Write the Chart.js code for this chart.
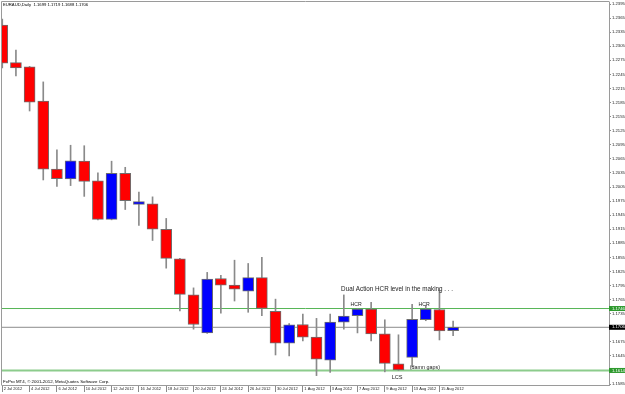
<!DOCTYPE html>
<html>
<head>
<meta charset="utf-8">
<script src="https://cdn.jsdelivr.net/npm/chart.js@4.4.0/dist/chart.umd.min.js"></script>
<style>
  html, body { margin: 0; padding: 0; background: #fff; }
  #wrap { width: 625px; height: 394px; }
</style>
</head>
<body>
<div id="wrap"><canvas id="chart" width="625" height="394"></canvas></div>
<script>
// EURAUD daily candles, 2 Jul - 16 Aug 2012
const dates = ['2 Jul 2012','3 Jul 2012','4 Jul 2012','5 Jul 2012','6 Jul 2012','9 Jul 2012','10 Jul 2012','11 Jul 2012',
  '12 Jul 2012','13 Jul 2012','16 Jul 2012','17 Jul 2012','18 Jul 2012','19 Jul 2012','20 Jul 2012','23 Jul 2012',
  '24 Jul 2012','25 Jul 2012','26 Jul 2012','27 Jul 2012','30 Jul 2012','31 Jul 2012','1 Aug 2012','2 Aug 2012',
  '3 Aug 2012','6 Aug 2012','7 Aug 2012','8 Aug 2012','9 Aug 2012','10 Aug 2012','13 Aug 2012','14 Aug 2012',
  '15 Aug 2012','16 Aug 2012'];
const open  = [1.2350,1.2270,1.2261,1.2188,1.2043,1.2022,1.2060,1.2018,1.1936,1.2034,1.1968,1.1969,1.1915,1.1852,1.1775,1.1694,
  1.1810,1.1796,1.1783,1.1812,1.1740,1.1672,1.1712,1.1685,1.1636,1.1717,1.1731,1.1745,1.1692,1.1628,1.1642,1.1722,1.1744,1.1699];
const high  = [1.2363,1.2297,1.2262,1.2229,1.2084,1.2094,1.2093,1.2035,1.2060,1.2047,1.1994,1.1984,1.1938,1.1853,1.1790,1.1823,
  1.1817,1.1849,1.1842,1.1855,1.1766,1.1714,1.1734,1.1725,1.1734,1.1775,1.1746,1.1759,1.1722,1.1690,1.1755,1.1752,1.1785,1.1719];
const low   = [1.2259,1.2242,1.2167,1.2020,1.2006,1.2008,1.1985,1.1935,1.1935,1.1957,1.1923,1.1891,1.1832,1.1741,1.1702,1.1693,
  1.1736,1.1762,1.1738,1.1731,1.1647,1.1645,1.1677,1.1603,1.1610,1.1702,1.1694,1.1677,1.1611,1.1614,1.1622,1.1720,1.1679,1.1688];
const close = [1.2269,1.2259,1.2186,1.2043,1.2023,1.2061,1.2017,1.1936,1.2034,1.1976,1.1974,1.1915,1.1853,1.1776,1.1712,1.1809,
  1.1796,1.1787,1.1812,1.1746,1.1672,1.1711,1.1685,1.1638,1.1717,1.1730,1.1745,1.1692,1.1629,1.1615,1.1723,1.1745,1.1698,1.1706];

// price scale labels (right side)
const yTicks = [1.1585,1.1615,1.1645,1.1675,1.1705,1.1735,1.1765,1.1795,1.1825,1.1855,1.1885,1.1915,1.1945,1.1975,
  1.2005,1.2035,1.2065,1.2095,1.2125,1.2155,1.2185,1.2215,1.2245,1.2275,1.2305,1.2335,1.2365,1.2395];

// horizontal levels: upper HCR line, current price, lower line
const levelValues = [1.1746, 1.1706, 1.1614];

// text notes on the chart (bar index, price)
const noteTexts  = ['Dual Action HCR level in the making . . .', 'HCR', 'HCR', 'LCS', '(damn gaps)'];
const noteBars   = [24.8, 25.9, 30.88, 28.9, 29.82];
const notePrices = [1.1788, 1.17535, 1.17535, 1.1600, 1.16192];

const FONT = "'Liberation Sans', Arial, sans-serif";
const RED = '#ff0000', BLUE = '#0000ff', EDGE = '#6e6e6e';

const levelStyle = [
  { color: '#57b657', width: 1, box: '#2e9a2e' },
  { color: '#8c8c8c', width: 1, box: '#000000' },
  { color: '#8ccc8c', width: 2, box: '#2e9a2e' }
];
const noteStyle = [
  { size: 6.3, align: 'left' },
  { size: 5.2, align: 'center' },
  { size: 5.2, align: 'center' },
  { size: 5.6, align: 'center' },
  { size: 5.4, align: 'left' }
];

const xMin = -0.02, xMax = 44.41;
const yMin = 1.1583, yMax = 1.23993;

const bodyColors = close.map((c, i) => c >= open[i] ? BLUE : RED);

const datasets = [
  {
    label: 'body',
    data: dates.map((d, i) => ({ x: i, y: [open[i], close[i]] })),
    backgroundColor: bodyColors,
    borderColor: EDGE,
    borderWidth: 1,
    borderSkipped: false,
    barThickness: 11,
    grouped: false,
    clip: 0,
    order: 0
  },
  {
    label: 'wick',
    data: dates.map((d, i) => ({ x: i, y: [low[i], high[i]] })),
    backgroundColor: '#8a8a8a',
    borderWidth: 0,
    barThickness: 1,
    grouped: false,
    clip: 0,
    order: 1
  }
];
levelValues.forEach((v, k) => {
  datasets.push({
    type: 'line',
    label: 'level ' + v,
    data: [{ x: xMin, y: v }, { x: xMax, y: v }],
    borderColor: levelStyle[k].color,
    borderWidth: levelStyle[k].width,
    pointRadius: 0,
    order: 2 + k
  });
});

const overlay = {
  id: 'overlay',
  afterDraw(chart) {
    const { ctx, chartArea: a, scales: { x, y } } = chart;
    ctx.save();
    // frame on left / top
    ctx.strokeStyle = '#9a9a9a';
    ctx.lineWidth = 1;
    ctx.beginPath();
    ctx.moveTo(1.5, a.bottom + 0.5);
    ctx.lineTo(1.5, 1.5);
    ctx.lineTo(a.right + 0.5, 1.5);
    ctx.stroke();

    // price boxes on the right scale
    levelValues.forEach((v, k) => {
      const py = y.getPixelForValue(v);
      ctx.fillStyle = levelStyle[k].box;
      ctx.fillRect(a.right, py - 2.5, 625 - a.right, 5);
      ctx.fillStyle = '#ffffff';
      ctx.font = '4.2px ' + FONT;
      ctx.textAlign = 'left';
      ctx.textBaseline = 'middle';
      ctx.fillText(v.toFixed(4), a.right + 3, py);
    });

    // header and footer text
    const n = close.length - 1;
    ctx.fillStyle = '#000';
    ctx.font = '4.2px ' + FONT;
    ctx.textAlign = 'left';
    ctx.textBaseline = 'middle';
    ctx.fillText('EURAUD,Daily  ' + [open[n], high[n], low[n], close[n]].map(v => v.toFixed(4)).join(' '), 3, 5);
    ctx.font = '4.4px ' + FONT;
    ctx.fillText('FxPro MT4, \u00a9 2001-2012, MetaQuotes Software Corp.', 3, a.bottom - 3);

    // notes
    noteTexts.forEach((t, k) => {
      ctx.font = noteStyle[k].size + 'px ' + FONT;
      ctx.fillStyle = '#222';
      ctx.textAlign = noteStyle[k].align;
      ctx.fillText(t, x.getPixelForValue(noteBars[k]), y.getPixelForValue(notePrices[k]));
    });
    ctx.restore();
  }
};

new Chart(document.getElementById('chart'), {
  type: 'bar',
  data: { datasets },
  options: {
    responsive: false,
    animation: false,
    devicePixelRatio: 1,
    layout: { padding: { left: 2, top: 2, right: 0, bottom: 0 } },
    plugins: { legend: { display: false }, tooltip: { enabled: false } },
    scales: {
      x: {
        type: 'linear',
        offset: false,
        grace: 0,
        min: xMin,
        max: xMax,
        afterBuildTicks: s => { s.ticks = dates.map((d, i) => ({ value: i })).filter(t => t.value % 2 === 0); },
        afterFit: s => { s.height = 9; s.paddingLeft = 0; s.paddingRight = 0; },
        grid: { offset: false, drawOnChartArea: false, drawTicks: true, tickLength: 7, color: '#8a8a8a' },
        border: { color: '#9a9a9a' },
        ticks: {
          autoSkip: false, maxRotation: 0, align: 'start', labelOffset: 1.5, padding: -6,
          color: '#222', font: { family: FONT, size: 4 },
          callback: v => dates[v]
        }
      },
      y: {
        position: 'right',
        min: yMin,
        max: yMax,
        afterBuildTicks: s => { s.ticks = yTicks.map(v => ({ value: v })); },
        afterFit: s => { s.width = 16; s.paddingTop = 0; s.paddingBottom = 0; },
        grid: { drawOnChartArea: false, drawTicks: true, tickLength: 2, color: '#8a8a8a' },
        border: { color: '#9a9a9a' },
        ticks: {
          autoSkip: false, padding: 1,
          color: '#222', font: { family: FONT, size: 4.2 },
          callback: v => v.toFixed(4)
        }
      }
    }
  },
  plugins: [overlay]
});
</script>
</body>
</html>
